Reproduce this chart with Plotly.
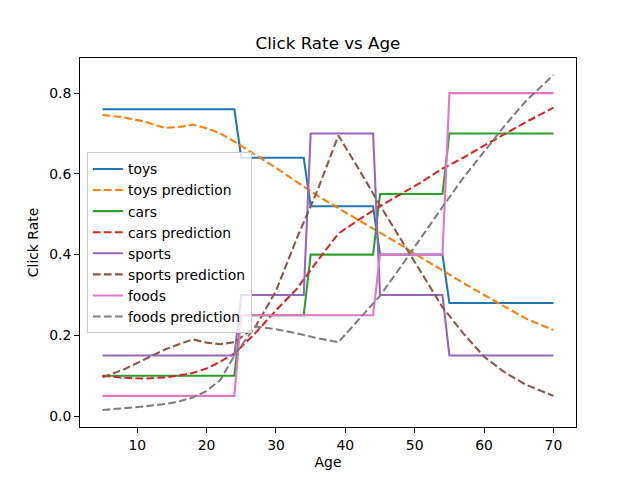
import plotly.graph_objects as go

# step series: ages at the band edges and the value held across each band
step_ages = [5, 24, 25, 34, 35, 44, 45, 54, 55, 70]
toys = [0.76, 0.76, 0.64, 0.64, 0.52, 0.52, 0.40, 0.40, 0.28, 0.28]
cars = [0.10, 0.10, 0.25, 0.25, 0.40, 0.40, 0.55, 0.55, 0.70, 0.70]
sports = [0.15, 0.15, 0.30, 0.30, 0.70, 0.70, 0.30, 0.30, 0.15, 0.15]
foods = [0.05, 0.05, 0.25, 0.25, 0.25, 0.25, 0.40, 0.40, 0.80, 0.80]

# model predictions
pred_ages = [5, 8, 11, 14, 16, 18, 20, 22, 24, 27, 30, 33, 36, 39, 42, 45, 48, 51, 54, 57, 60, 63, 66, 70]
toys_pred = [0.746, 0.740, 0.730, 0.714, 0.716, 0.722, 0.713, 0.700, 0.680, 0.648, 0.615, 0.580, 0.546,
             0.515, 0.485, 0.455, 0.424, 0.392, 0.360, 0.330, 0.300, 0.272, 0.242, 0.213]
cars_pred = [0.100, 0.095, 0.093, 0.096, 0.100, 0.107, 0.118, 0.135, 0.155, 0.205, 0.262, 0.315, 0.385,
             0.452, 0.487, 0.520, 0.550, 0.580, 0.613, 0.640, 0.670, 0.700, 0.728, 0.764]
sports_pred = [0.096, 0.115, 0.140, 0.165, 0.178, 0.190, 0.182, 0.178, 0.183, 0.220, 0.310, 0.440, 0.560,
               0.695, 0.610, 0.522, 0.438, 0.354, 0.270, 0.205, 0.147, 0.108, 0.078, 0.050]
foods_pred = [0.015, 0.019, 0.024, 0.030, 0.036, 0.046, 0.062, 0.090, 0.150, 0.222, 0.215, 0.205, 0.193,
              0.183, 0.240, 0.298, 0.370, 0.445, 0.518, 0.590, 0.655, 0.720, 0.780, 0.845]

DASH = "7.7px,3.3px"
series = [
    ("toys", step_ages, toys, "#1f77b4", "solid"),
    ("toys prediction", pred_ages, toys_pred, "#ff7f0e", DASH),
    ("cars", step_ages, cars, "#2ca02c", "solid"),
    ("cars prediction", pred_ages, cars_pred, "#d62728", DASH),
    ("sports", step_ages, sports, "#9467bd", "solid"),
    ("sports prediction", pred_ages, sports_pred, "#8c564b", DASH),
    ("foods", step_ages, foods, "#e377c2", "solid"),
    ("foods prediction", pred_ages, foods_pred, "#7f7f7f", DASH),
]

fig = go.Figure()
for name, xs, ys, color, dash in series:
    fig.add_trace(go.Scatter(x=xs, y=ys, name=name, mode="lines",
                             line=dict(color=color, width=2.08, dash=dash)))

axis_style = dict(showgrid=False, zeroline=False, showline=True, linecolor="black", linewidth=1,
                  mirror=True, ticks="outside", ticklen=5, tickcolor="black", automargin=False,
                  tickfont=dict(size=13.9, color="black"))
fig.update_xaxes(range=[1.75, 73.25], tickvals=[10, 20, 30, 40, 50, 60, 70],
                 title=dict(text="Age", font=dict(size=13.9, color="black"), standoff=5), **axis_style)
fig.update_yaxes(range=[-0.027, 0.887], tickvals=[0, 0.2, 0.4, 0.6, 0.8], tickformat=".1f",
                 title=dict(text="Click Rate", font=dict(size=13.9, color="black"), standoff=7), **axis_style)

# page has an 8px body margin, so the figure is a bit smaller than the window
fig.update_layout(
    width=624, height=464,
    margin=dict(l=72, r=56, t=49.6, b=44.8),
    plot_bgcolor="white", paper_bgcolor="white",
    font=dict(family="DejaVu Sans", color="black"),
    title=dict(text="Click Rate vs Age", x=0.5128, xanchor="center", y=0.9246, yanchor="middle",
               font=dict(size=16.7, color="black")),
    legend=dict(x=0.014, y=0.744, xanchor="left", yanchor="top", itemwidth=30,
                bgcolor="rgba(255,255,255,0.8)", bordercolor="#cccccc", borderwidth=1,
                font=dict(size=13.9, color="black")),
)

fig.write_html("out.html")
